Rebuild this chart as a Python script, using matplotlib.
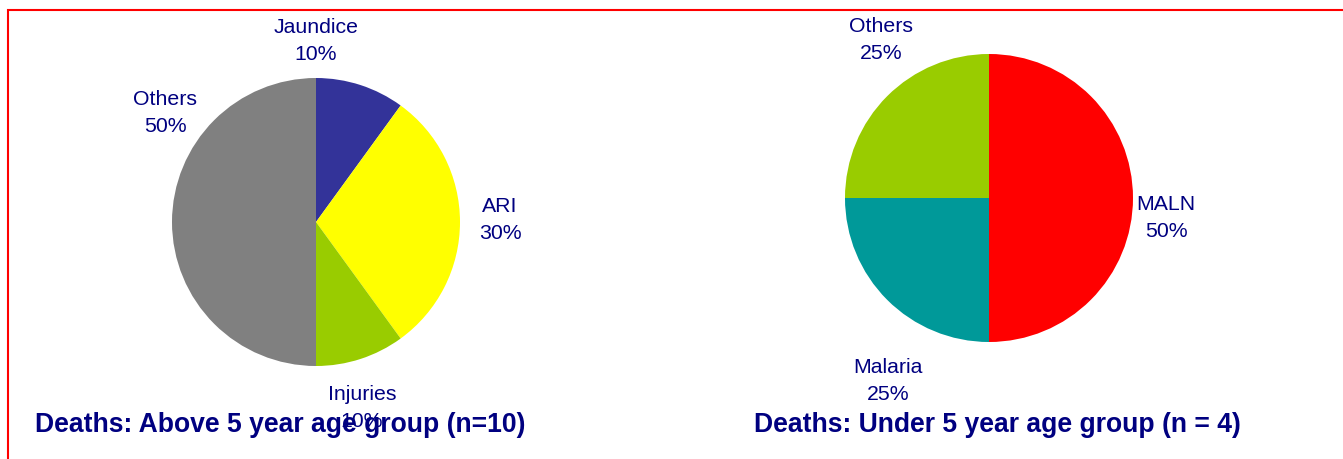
import matplotlib.pyplot as plt
from matplotlib.patches import Rectangle

plt.rcParams['font.family'] = ['Liberation Sans', 'DejaVu Sans']

# Deaths above 5 years (n=10)
above_labels = ['Jaundice', 'ARI', 'Injuries', 'Others']
above_values = [10, 30, 10, 50]
above_colors = ['#333399', '#ffff00', '#99cc00', '#808080']

# Deaths under 5 years (n=4)
under_labels = ['MALN', 'Malaria', 'Others']
under_values = [50, 25, 25]
under_colors = ['#ff0000', '#009999', '#99cc00']

navy = '#000080'
W, H = 1343, 459

fig = plt.figure(figsize=(W / 100, H / 100), dpi=100)
ax = fig.add_axes([0, 0, 1, 1])
ax.set_xlim(0, W)
ax.set_ylim(0, H)
ax.set_aspect('equal')
ax.axis('off')

# pie 1
ax.pie(above_values, colors=above_colors, center=(316, 237), radius=144,
       startangle=90, counterclock=False, wedgeprops=dict(linewidth=0))
above_pos = [(316, 418), (500, 239), (362, 51), (165, 346)]
for lab, v, (x, y) in zip(above_labels, above_values, above_pos):
    ax.text(x, y, f'{lab}\n{v}%', ha='center', va='center', fontsize=15.3,
            color=navy, linespacing=1.55)

# pie 2
ax.pie(under_values, colors=under_colors, center=(989, 261), radius=144,
       startangle=90, counterclock=False, wedgeprops=dict(linewidth=0))
under_pos = [(1166, 241), (888, 78), (881, 419)]
for lab, v, (x, y) in zip(under_labels, under_values, under_pos):
    ax.text(x, y, f'{lab}\n{v}%', ha='center', va='center', fontsize=15.3,
            color=navy, linespacing=1.55)

ax.set_xlim(0, W)
ax.set_ylim(0, H)

ax.text(280, 34, 'Deaths: Above 5 year age group (n=10)', ha='center', va='center',
        fontsize=19.1, fontweight='bold', color=navy)
ax.text(997, 34, 'Deaths: Under 5 year age group (n = 4)', ha='center', va='center',
        fontsize=19.1, fontweight='bold', color=navy)

# red frame
ax.add_patch(Rectangle((8, -20), 1360, 469, fill=False, edgecolor='#ff0000',
                       linewidth=1.5, clip_on=False))

fig.savefig('out.png', dpi=100)
